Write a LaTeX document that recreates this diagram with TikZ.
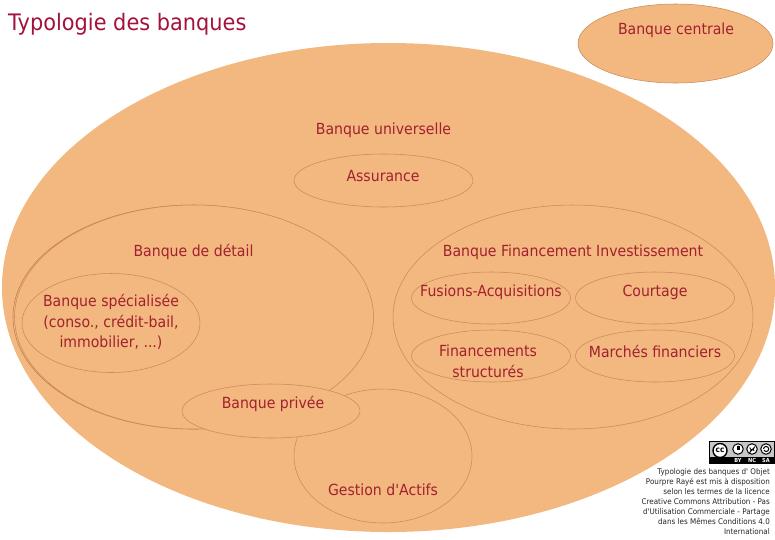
\documentclass[tikz,border=0pt]{standalone}
\usepackage{fontspec}
\newfontfamily\plainf{DejaVu Sans}[FakeStretch=0.92]
\usetikzlibrary{shapes.geometric}
\definecolor{peach}{HTML}{F2B880}
\definecolor{lineRed}{HTML}{CB8A58}
\definecolor{lineDark}{HTML}{C27A4C}
\definecolor{txt}{HTML}{A3202E}
\definecolor{titletxt}{HTML}{A4123C}
\tikzset{
  x=1pt,y=-1pt,
  ell/.style={ellipse,draw=lineRed,line width=0.55pt,fill=peach,inner sep=0pt,outer sep=0pt},
  lab/.style={text=txt,font=\plainf\fontsize{15.3}{20.7}\selectfont,align=center,inner sep=0pt},
  ccring/.style={draw=black,line width=1pt,fill=white},
  cclab/.style={font=\plainf\bfseries\fontsize{5.5}{5.5}\selectfont,text=white,inner sep=0pt},
}
\begin{document}
\begin{tikzpicture}
\useasboundingbox (0,0) rectangle (775,539);
\fill[white] (0,0) rectangle (775,539);
\node[ell,minimum width=195pt,minimum height=79pt] (central) at (675.5,43.5) {};
\node[ell,draw=none,minimum width=773pt,minimum height=489pt] (univ) at (388.5,287.5) {};
\node[ell,minimum width=179pt,minimum height=53pt] (assur) at (383.5,180.5) {};
\node[ell,minimum width=178pt,minimum height=134pt] (gest) at (383,456) {};
\node[ell,draw=lineDark,minimum width=360pt,minimum height=224pt] (detail2) at (193,317) {};
\node[ell,minimum width=359pt,minimum height=224pt] (detail) at (194,317) {};
\node[ell,minimum width=360pt,minimum height=224pt] (bfi) at (573,317) {};
\node[ell,minimum width=178pt,minimum height=99pt] (spec) at (111,323) {};
\node[ell,minimum width=178pt,minimum height=54pt] (priv) at (271,411) {};
\node[ell,minimum width=159pt,minimum height=52pt] (fus) at (491,298) {};
\node[ell,minimum width=159pt,minimum height=52pt] (court) at (655,298) {};
\node[ell,minimum width=159pt,minimum height=52pt] (fin) at (491,356) {};
\node[ell,minimum width=159pt,minimum height=52pt] (marc) at (655,356) {};
\node[lab] at (383.5,130) {Banque universelle};
\node[lab] at (676,30) {Banque centrale};
\node[lab] at (383,176) {Assurance};
\node[lab] at (193.5,252) {Banque de détail};
\node[lab] at (573,252) {Banque Financement Investissement};
\node[lab] at (111,322) {Banque spécialisée\\(conso., crédit-bail,\\immobilier, ...)};
\node[lab] at (273,404) {Banque privée};
\node[lab] at (383,489.5) {Gestion d'Actifs};
\node[lab] at (491,292) {Fusions-Acquisitions};
\node[lab] at (655,292) {Courtage};
\node[lab] at (488,361) {Financements\\structurés};
\node[lab] at (655,351.5) {Marchés financiers};
\node[text=titletxt,anchor=west,inner sep=0pt,font=\plainf\fontsize{22.7}{27}\selectfont] (title) at (8,24) {Typologie des banques};
% CC badge
\fill[black] (709,441) rectangle (775,463.5);
\fill[black!22] (710,442) rectangle (774,457);
\node[circle,ccring,line width=1.4pt,minimum size=14pt,inner sep=0pt,font=\plainf\bfseries\fontsize{8}{8}\selectfont,text=black] (cc) at (720,450.5) {cc};
\node[circle,ccring,minimum size=10.5pt,inner sep=0pt] (by) at (738,449) {};
\node[circle,ccring,minimum size=10.5pt,inner sep=0pt] (nc) at (752,449) {};
\node[circle,ccring,minimum size=10.5pt,inner sep=0pt] (sa) at (766,449) {};
\fill[black] (by.center)+(0,-2.5) circle (1);
\fill[black] ([xshift=-1.5pt,yshift=-1.2pt]by.center) rectangle ([xshift=1.5pt,yshift=3pt]by.center);
\draw[black,line width=0.9pt] ([xshift=2.2pt,yshift=-1.5pt]nc.center) arc[start angle=40,end angle=180,radius=2.3pt] -- ([xshift=2.2pt,yshift=1.5pt]nc.center) arc[start angle=0,end angle=-180,radius=2.2pt];
\draw[black,line width=1pt] ([xshift=-2.5pt,yshift=0pt]sa.center) arc[start angle=180,end angle=-150,radius=2.6pt];
\node[cclab] (bylab) at (738,460.3) {BY};
\node[cclab] (nclab) at (752,460.3) {NC};
\node[cclab] (salab) at (766,460.3) {SA};
\node[anchor=north east,align=right,inner sep=0pt,text=black!85,font=\plainf\fontsize{7.8}{10.1}\selectfont] (lic) at (770,468) {Typologie des banques d' Objet\\Pourpre Rayé est mis à disposition\\selon les termes de la licence\\Creative Commons Attribution - Pas\\d'Utilisation Commerciale - Partage\\dans les Mêmes Conditions 4.0\\International};
\end{tikzpicture}
\end{document}
